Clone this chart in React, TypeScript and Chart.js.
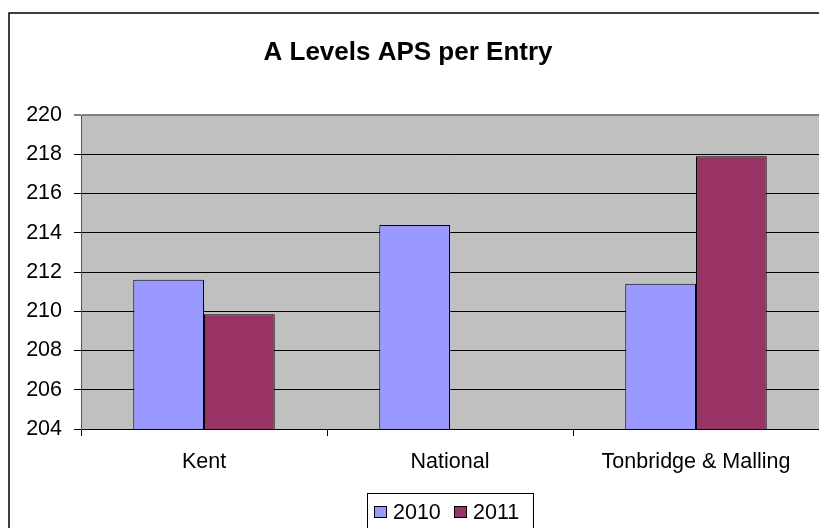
import React, { useEffect, useRef } from "react";
import { Chart, registerables } from "chart.js";

Chart.register(...registerables);

const chartTitle = "A Levels APS per Entry";
const categories = ["Kent", "National", "Tonbridge & Malling"];
const seriesNames = ["2010", "2011"];
const values2010 = [211.6, 214.4, 211.4];
const values2011: (number | null)[] = [209.85, null, 217.9];
const colors = ["#9999FF", "#993366"];
const yMin = 204;
const yMax = 220;
const yStep = 2;

const FONT = "'Liberation Sans', Arial, sans-serif";

const decorPlugin = {
  id: "decor",
  beforeDraw(chart: any) {
    const { ctx, chartArea } = chart;
    ctx.save();
    ctx.fillStyle = "#ffffff";
    ctx.fillRect(0, 0, chart.width, chart.height);
    // outer chart border (cropped on right/bottom)
    ctx.strokeStyle = "#000000";
    ctx.lineWidth = 1.5;
    ctx.beginPath();
    ctx.moveTo(9, chart.height + 5);
    ctx.lineTo(9, 13);
    ctx.lineTo(chart.width + 5, 13);
    ctx.stroke();
    // plot area background
    ctx.fillStyle = "#C0C0C0";
    ctx.fillRect(
      chartArea.left,
      chartArea.top,
      chartArea.right - chartArea.left,
      chartArea.bottom - chartArea.top
    );
    ctx.restore();
  },
  afterDraw(chart: any) {
    const { ctx } = chart;
    ctx.save();
    // title
    ctx.fillStyle = "#000000";
    ctx.font = `bold 26px ${FONT}`;
    ctx.textAlign = "center";
    ctx.textBaseline = "alphabetic";
    ctx.fillText(chartTitle, 408, 60);
    // legend
    const lx = 367, ly = 493, lw = 166, lh = 60;
    ctx.strokeStyle = "#000000";
    ctx.lineWidth = 1;
    ctx.strokeRect(lx + 0.5, ly + 0.5, lw, lh);
    ctx.font = `21.5px ${FONT}`;
    ctx.textAlign = "left";
    ctx.textBaseline = "middle";
    let x = 374;
    const cy = 512;
    chart.data.datasets.forEach((ds: any) => {
      ctx.fillStyle = ds.backgroundColor;
      ctx.fillRect(x + 0.5, cy - 5.5, 12, 11);
      ctx.strokeStyle = "#000";
      ctx.strokeRect(x + 0.5, cy - 5.5, 12, 11);
      ctx.fillStyle = "#000";
      ctx.fillText(ds.label, x + 19, cy + 1);
      x += 80;
    });
    ctx.restore();
  },
};

export default function App() {
  const ref = useRef<HTMLCanvasElement | null>(null);
  useEffect(() => {
    if (!ref.current) return;
    const chart = new Chart(ref.current, {
      type: "bar",
      data: {
        labels: categories,
        datasets: [
          {
            label: seriesNames[0],
            data: values2010,
            backgroundColor: colors[0],
            borderColor: "#000000",
            borderWidth: 1,
          },
          {
            label: seriesNames[1],
            data: values2011,
            backgroundColor: colors[1],
            borderColor: "#000000",
            borderWidth: 1,
          },
        ],
      },
      options: {
        responsive: false,
        animation: false,
        devicePixelRatio: 1,
        layout: { padding: { top: 115, left: 0, right: 0, bottom: 0 } },
        datasets: {
          bar: { categoryPercentage: 0.575, barPercentage: 1 },
        },
        plugins: {
          legend: { display: false },
          title: { display: false },
          tooltip: { enabled: false },
        },
        scales: {
          x: {
            afterFit: (s: any) => {
              s.height = 99;
            },
            grid: {
              offset: true,
              drawOnChartArea: false,
              drawTicks: true,
              tickLength: 7,
              color: "#000000",
            },
            border: { color: "#000000", width: 1 },
            ticks: {
              color: "#000000",
              font: { family: FONT, size: 21.5 },
              padding: 13,
              maxRotation: 0,
            },
          },
          y: {
            min: yMin,
            max: yMax,
            afterFit: (s: any) => {
              s.width = 81;
            },
            ticks: {
              stepSize: yStep,
              color: "#000000",
              font: { family: FONT, size: 21.5 },
              padding: 12,
            },
            grid: {
              color: (c: any) => (c.tick && c.tick.value === yMax ? "#808080" : "#000000"),
              lineWidth: (c: any) => (c.tick && c.tick.value === yMax ? 2 : 1),
              tickLength: 7,
              drawTicks: true,
            },
            border: { color: "#555555", width: 1 },
          },
        },
      },
      plugins: [decorPlugin],
    });
    return () => chart.destroy();
  }, []);
  return (
    <div style={{ position: "fixed", left: 0, top: 0, width: 819, height: 528, overflow: "hidden", background: "#fff" }}>
      <canvas ref={ref} width={819} height={528} style={{ display: "block" }} />
    </div>
  );
}
